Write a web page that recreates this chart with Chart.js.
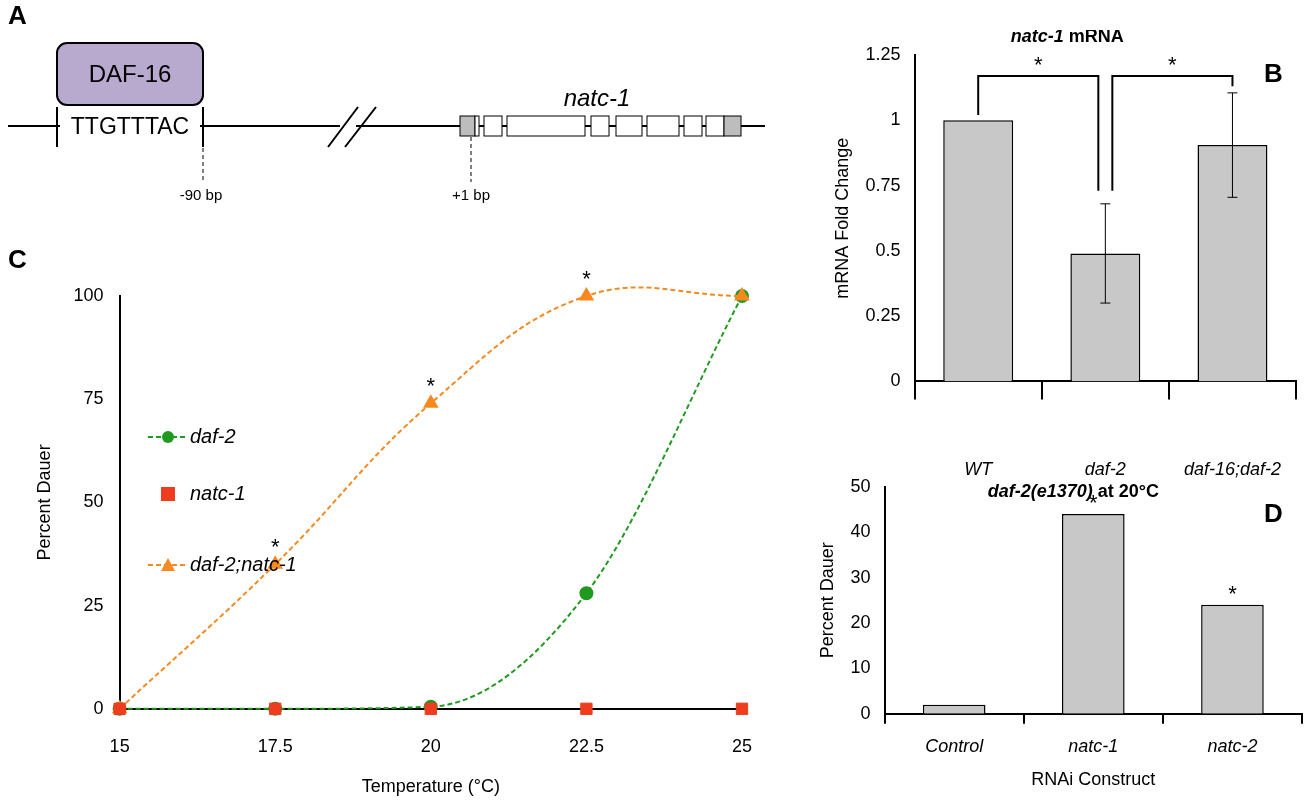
<!DOCTYPE html>
<html><head><meta charset="utf-8">
<script src="https://cdn.jsdelivr.net/npm/chart.js@4"></script>
<style>
body{margin:0;background:#fff;width:1312px;height:800px;position:relative;overflow:hidden;font-family:Arial,"Liberation Sans",sans-serif}
canvas{position:absolute}
.lab{position:absolute;font:bold 26px "Liberation Sans",Arial,sans-serif}
</style></head><body>
<canvas id="a" width="780" height="215" style="left:0;top:0"></canvas>
<div style="position:absolute;left:0;top:230px;width:790px;height:570px"><canvas id="c"></canvas></div>
<canvas id="d" width="522" height="330" style="left:790px;top:470px"></canvas>
<canvas id="b" width="551" height="523" style="left:790px;top:30px"></canvas>
<div class="lab" style="left:8px;top:0px">A</div>
<div class="lab" style="left:1264px;top:58px">B</div>
<div class="lab" style="left:8px;top:244px">C</div>
<div class="lab" style="left:1264px;top:498px">D</div>
<script>
var temps = [15, 17.5, 20, 22.5, 25];
var daf2 = [0, 0, 0.5, 28, 100];
var natc1 = [0, 0, 0, 0, 0];
var daf2natc1 = [0, 35, 74, 100, 100];
var mrnaLabels = ["WT", "daf-2", "daf-16;daf-2"];
var mrnaValues = [1, 0.49, 0.905];
var mrnaErrors = [0, 0.19, 0.2];
var rnaiLabels = ["Control", "natc-1", "natc-2"];
var rnaiValues = [2, 44, 24];
var FONT = "'Liberation Sans', Arial, sans-serif";
Chart.defaults.font.family = FONT;
Chart.defaults.color = "#000";
Chart.defaults.animation = false;

// ---- panel A: promoter diagram
(function () {
    var ctx = document.getElementById("a").getContext("2d");
    ctx.strokeStyle = "#000"; ctx.lineWidth = 2;
    ctx.beginPath(); ctx.moveTo(8, 126); ctx.lineTo(340, 126); ctx.moveTo(356, 126); ctx.lineTo(765, 126); ctx.stroke();
    ctx.clearRect(60, 110, 140, 32);
    ctx.beginPath(); ctx.moveTo(328, 147); ctx.lineTo(358, 107); ctx.moveTo(345, 147); ctx.lineTo(376, 107); ctx.stroke();
    ctx.beginPath(); ctx.moveTo(57, 107); ctx.lineTo(57, 147); ctx.moveTo(203, 107); ctx.lineTo(203, 147); ctx.stroke();
    ctx.fillStyle = "#b8a9cf"; ctx.beginPath(); ctx.roundRect(57, 43, 146, 62, 10); ctx.fill(); ctx.stroke();
    ctx.fillStyle = "#000"; ctx.textAlign = "center"; ctx.textBaseline = "middle";
    ctx.font = "24px " + FONT; ctx.fillText("DAF-16", 130, 75);
    ctx.font = "23px " + FONT; ctx.fillText("TTGTTTAC", 130, 128);
    ctx.font = "italic 24px " + FONT; ctx.fillText("natc-1", 597, 99);
    ctx.font = "15px " + FONT; ctx.fillText("-90 bp", 201, 196); ctx.fillText("+1 bp", 471, 196);
    var boxes = [[460,475,1],[475,479,0],[484,502,0],[507,585,0],[591,609,0],[616,642,0],[647,679,0],[684,702,0],[706,724,0],[724,741,1]];
    ctx.lineWidth = 1;
    boxes.forEach(function (b) {
        ctx.fillStyle = b[2] ? "#bdbdbd" : "#fff";
        ctx.fillRect(b[0], 116, b[1] - b[0], 20); ctx.strokeRect(b[0], 116, b[1] - b[0], 20);
    });
    ctx.setLineDash([4, 3]);
    ctx.beginPath(); ctx.moveTo(203, 148); ctx.lineTo(203, 182); ctx.moveTo(471, 137); ctx.lineTo(471, 182); ctx.stroke();
})();

// ---- panel C
var stars = { id: "stars", afterDatasetsDraw: function (chart, args, opts) {
    var ctx = chart.ctx;
    ctx.save(); ctx.fillStyle = "#000"; ctx.font = "22px " + FONT; ctx.textAlign = "center";
    opts.points.forEach(function (p) {
        var el = chart.getDatasetMeta(p[0]).data[p[1]];
        ctx.fillText("*", el.x, el.y - 10);
    });
    ctx.restore();
}};
var legendC = { id: "legendC", afterDraw: function (chart) {
    var ctx = chart.ctx, x0 = 148;
    var items = [["daf-2", "#1f9a1f", "circle", true, 207], ["natc-1", "#f03c1e", "rect", false, 264], ["daf-2;natc-1", "#f7891f", "triangle", true, 335]];
    ctx.save(); ctx.font = "italic 20px " + FONT; ctx.textBaseline = "middle";
    items.forEach(function (it) {
        var y = it[4];
        ctx.strokeStyle = it[1]; ctx.fillStyle = it[1]; ctx.lineWidth = 2;
        if (it[3]) { ctx.setLineDash([5, 3]); ctx.beginPath(); ctx.moveTo(x0, y); ctx.lineTo(x0 + 40, y); ctx.stroke(); ctx.setLineDash([]); }
        ctx.beginPath();
        if (it[2] == "circle") ctx.arc(x0 + 20, y, 6, 0, 7);
        else if (it[2] == "rect") ctx.rect(x0 + 13, y - 7, 14, 14);
        else { ctx.moveTo(x0 + 20, y - 7); ctx.lineTo(x0 + 27, y + 6); ctx.lineTo(x0 + 13, y + 6); ctx.closePath(); }
        ctx.fill();
        ctx.fillStyle = "#000"; ctx.fillText(it[0], x0 + 42, y);
    });
    ctx.restore();
}};
function pts(ys) { return ys.map(function (y, i) { return { x: temps[i], y: y }; }); }
new Chart(document.getElementById("c"), {
    type: "scatter",
    data: { datasets: [
        { data: pts(natc1), order: 0, showLine: false, clip: false, pointStyle: "rect", pointRadius: 8, backgroundColor: "#f03c1e", borderColor: "#f03c1e" },
        { data: pts(daf2), order: 2, showLine: true, clip: false, borderDash: [5, 3], cubicInterpolationMode: "monotone", borderWidth: 2, pointRadius: 6, backgroundColor: "#1f9a1f", borderColor: "#1f9a1f" },
        { data: pts(daf2natc1), order: 1, showLine: true, clip: false, borderDash: [5, 3], tension: 0.4, borderWidth: 2, pointStyle: "triangle", pointRadius: 7, backgroundColor: "#f7891f", borderColor: "#f7891f" }
    ]},
    options: {
        responsive: true, maintainAspectRatio: false,
        elements: { line: { capBezierPoints: false } },
        layout: { padding: { left: 30, right: 48, top: 66, bottom: 2 } },
        plugins: { legend: { display: false }, tooltip: { enabled: false },
            stars: { points: [[2, 1], [2, 2], [2, 3]] } },
        scales: {
            x: { type: "linear", min: 15, max: 25, grid: { display: false, tickColor: "#000" },
                border: { color: "#000", width: 2 }, ticks: { stepSize: 2.5, font: { size: 18 }, padding: 19, maxRotation: 0 },
                title: { display: true, text: "Temperature (°C)", font: { size: 18 }, padding: 0 } },
            y: { min: 0, max: 100, grid: { display: false, tickColor: "#000" }, border: { color: "#000", width: 2 },
                ticks: { stepSize: 25, font: { size: 18 }, padding: 8 },
                title: { display: true, text: "Percent Dauer", font: { size: 18 }, padding: { bottom: 10 } } }
        }
    },
    plugins: [stars, legendC]
});

// ---- bar helpers
var titlePlug = { id: "titlePlug", afterDraw: function (chart, args, o) {
    var ctx = chart.ctx; ctx.save(); ctx.textBaseline = "middle";
    ctx.font = "bold italic 18px " + FONT; var w1 = ctx.measureText(o.a).width;
    ctx.font = "bold 18px " + FONT; var w2 = ctx.measureText(o.b).width;
    var cx = (chart.chartArea.left + chart.chartArea.right) / 2 + (o.dx || 0), x = cx - (w1 + w2) / 2;
    ctx.font = "bold italic 18px " + FONT; ctx.fillText(o.a, x, o.y);
    ctx.font = "bold 18px " + FONT; ctx.fillText(o.b, x + w1, o.y);
    ctx.restore();
}};
var errPlug = { id: "errPlug", afterDatasetsDraw: function (chart, args, o) {
    if (!o.errors) return;
    var ctx = chart.ctx, ys = chart.scales.y, meta = chart.getDatasetMeta(0);
    ctx.save(); ctx.strokeStyle = "#000"; ctx.lineWidth = 1;
    meta.data.forEach(function (el, i) {
        var e = o.errors[i]; if (!e) return;
        var v = chart.data.datasets[0].data[i], t = ys.getPixelForValue(v + e), b = ys.getPixelForValue(v - e);
        ctx.beginPath(); ctx.moveTo(el.x, t); ctx.lineTo(el.x, b);
        ctx.moveTo(el.x - 5, t); ctx.lineTo(el.x + 5, t); ctx.moveTo(el.x - 5, b); ctx.lineTo(el.x + 5, b); ctx.stroke();
    });
    ctx.restore();
}};
var bracketPlug = { id: "bracketPlug", afterDatasetsDraw: function (chart, args, o) {
    if (!o.pairs) return;
    var ctx = chart.ctx, ys = chart.scales.y, d = chart.getDatasetMeta(0).data;
    ctx.save(); ctx.strokeStyle = "#000"; ctx.lineWidth = 2; ctx.font = "22px " + FONT; ctx.textAlign = "center";
    o.pairs.forEach(function (p) {
        var top = ys.getPixelForValue(p[2]);
        var y1 = ys.getPixelForValue(p[3]), y2 = ys.getPixelForValue(p[4]);
        var x1 = d[p[0]].x + p[5], x2 = d[p[1]].x + p[6];
        ctx.beginPath(); ctx.moveTo(x1, y1); ctx.lineTo(x1, top); ctx.lineTo(x2, top); ctx.lineTo(x2, y2); ctx.stroke();
        ctx.fillText("*", (x1 + x2) / 2, top - 4);
    });
    ctx.restore();
}};
var barStars = { id: "barStars", afterDatasetsDraw: function (chart, args, o) {
    if (!o.idx) return;
    var ctx = chart.ctx, d = chart.getDatasetMeta(0).data;
    ctx.save(); ctx.font = "22px " + FONT; ctx.textAlign = "center";
    o.idx.forEach(function (i) { ctx.fillText("*", d[i].x, d[i].y - 4); });
    ctx.restore();
}};
function barOpts(extra) {
    return {
        responsive: false,
        layout: { padding: extra.pad },
        plugins: Object.assign({ legend: { display: false }, tooltip: { enabled: false } }, extra.plugins),
        scales: {
            x: { grid: { display: true, offset: true, drawOnChartArea: false, tickColor: "#000", tickLength: extra.tickLen, lineWidth: 2 },
                border: { color: "#000", width: 2 }, ticks: { font: { size: 18, style: "italic" }, padding: extra.xpad, maxRotation: 0, autoSkip: false },
                title: extra.xtitle ? { display: true, text: extra.xtitle, font: { size: 18 }, padding: 0 } : { display: false } },
            y: { min: 0, max: extra.max, grid: { display: false, tickColor: "#000" }, border: { color: "#000", width: 2 },
                ticks: { stepSize: extra.step, font: { size: 18 }, padding: 6, callback: function (v) { return String(v); } },
                title: { display: true, text: extra.ytitle, font: { size: 18 }, padding: { bottom: 6 } } }
        }
    };
}
new Chart(document.getElementById("b"), {
    type: "bar",
    data: { labels: mrnaLabels, datasets: [{ data: mrnaValues, backgroundColor: "#c8c8c8", borderColor: "#000", borderWidth: 1.5, categoryPercentage: 0.55, barPercentage: 1 }] },
    options: barOpts({ max: 1.25, step: 0.25, ytitle: "mRNA Fold Change", tickLen: 18, xpad: 60,
        pad: { top: 25, right: 0, left: 38, bottom: 12 },
        plugins: { titlePlug: { a: "natc-1", b: " mRNA", y: 7, dx: -38 }, errPlug: { errors: mrnaErrors },
            bracketPlug: { pairs: [[0, 1, 1.17, 1.02, 0.73, 0, -7], [1, 2, 1.17, 0.73, 1.13, 7, 0]] } } }),
    plugins: [titlePlug, errPlug, bracketPlug]
});
new Chart(document.getElementById("d"), {
    type: "bar",
    data: { labels: rnaiLabels, datasets: [{ data: rnaiValues, backgroundColor: "#c8c8c8", borderColor: "#000", borderWidth: 1.5, categoryPercentage: 0.45, barPercentage: 1 }] },
    options: barOpts({ max: 50, step: 10, ytitle: "Percent Dauer", xtitle: "RNAi Construct", tickLen: 10, xpad: 12,
        pad: { top: 16, right: 10, left: 23, bottom: 9 },
        plugins: { titlePlug: { a: "daf-2(e1370)", b: " at 20°C", y: 22, dx: -20 }, barStars: { idx: [1, 2] } } }),
    plugins: [titlePlug, barStars]
});
</script>
</body></html>
